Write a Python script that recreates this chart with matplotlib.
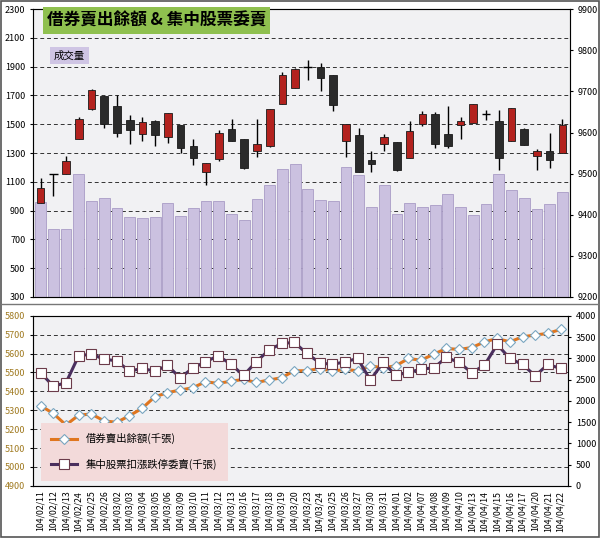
import matplotlib
matplotlib.use("Agg")
import matplotlib.pyplot as plt
from matplotlib.patches import Rectangle
import numpy as np

plt.rcParams['font.family'] = ['Noto Sans CJK TC', 'DejaVu Sans']

dates = ["104/02/11","104/02/12","104/02/13","104/02/24","104/02/25","104/02/26","104/03/02","104/03/03",
         "104/03/04","104/03/05","104/03/06","104/03/09","104/03/10","104/03/11","104/03/12","104/03/13",
         "104/03/16","104/03/17","104/03/18","104/03/19","104/03/20","104/03/23","104/03/24","104/03/25",
         "104/03/26","104/03/27","104/03/30","104/03/31","104/04/01","104/04/02","104/04/07","104/04/08",
         "104/04/09","104/04/10","104/04/13","104/04/14","104/04/15","104/04/16","104/04/17","104/04/20",
         "104/04/21","104/04/22"]
volume = [957,769,769,1155,969,990,921,859,851,859,955,866,921,969,969,879,838,983,1079,1190,1224,
          1052,976,968,1203,1148,928,1079,879,955,928,941,1017,928,872,948,1155,1045,990,914,948,1031]
opens  = [9428,9499,9500,9583,9657,9689,9664,9630,9597,9629,9590,9618,9566,9503,9535,9608,9583,9555,9566,9669,9708,
          9760,9760,9740,9580,9594,9533,9572,9576,9537,9621,9645,9596,9618,9622,9645,9629,9580,9608,9542,9554,9551]
closes = [9466,9499,9531,9632,9703,9621,9600,9606,9625,9594,9648,9563,9537,9525,9598,9579,9513,9573,9657,9740,9754,
          9760,9732,9667,9621,9503,9523,9589,9508,9603,9644,9572,9566,9627,9669,9645,9539,9659,9569,9554,9533,9618]
highs  = [9490,9500,9543,9638,9705,9689,9691,9642,9637,9630,9648,9618,9583,9525,9606,9634,9583,9632,9657,9746,9756,
          9776,9768,9740,9621,9610,9556,9596,9576,9629,9652,9650,9664,9638,9669,9654,9655,9659,9612,9561,9598,9632]
lows   = [9428,9446,9500,9583,9655,9610,9588,9572,9580,9566,9574,9551,9520,9472,9531,9579,9511,9540,9564,9669,9708,
          9727,9702,9653,9541,9503,9503,9556,9506,9537,9617,9562,9562,9583,9622,9630,9509,9580,9569,9508,9513,9551]
short_bal = [5324,5283,5222,5274,5280,5244,5236,5271,5310,5371,5393,5407,5419,5451,5442,5454,5463,5447,5460,5472,5509,
             5509,5521,5507,5516,5509,5535,5525,5535,5574,5565,5597,5627,5622,5632,5662,5680,5662,5689,5698,5707,5728]
limit_orders = [2659,2345,2424,3059,3098,2980,2941,2698,2761,2698,2831,2541,2769,2918,3059,2863,2596,2918,3192,3349,3373,
                3114,2894,2855,2918,2996,2486,2902,2604,2667,2745,2776,3020,2902,2659,2839,3325,2996,2855,2588,2855,2761]

x = np.arange(len(dates))
fig = plt.figure(figsize=(6, 5.38), dpi=100)
bg = '#f1f1f3'

# ---- top
ax = fig.add_axes([0.055, 0.448, 0.895, 0.535])
ax.set_facecolor(bg)
ax.bar(x, np.array(volume) - 300, bottom=300, width=0.85, color='#cbc1e0', edgecolor='#a99cc6', linewidth=0.6, zorder=2)
ax.set_ylim(300, 2300)
ax.set_yticks(range(300, 2301, 200))
ax.set_xlim(-0.6, len(x) - 0.4)
ax.set_xticks(x)
ax.set_xticklabels([])
ax.tick_params(axis='x', length=0)
ax.tick_params(axis='y', labelsize=6.5, length=2)
ax.grid(axis='y', color='#333333', linestyle=(0, (4, 3)), linewidth=0.7, zorder=1)
ax.set_axisbelow(True)
ax2 = ax.twinx()
ax2.set_ylim(9200, 9900)
ax2.set_yticks(range(9200, 9901, 100))
ax2.tick_params(axis='y', labelsize=6.5, length=2)
for i in x:
    o, c, h, l = opens[i], closes[i], highs[i], lows[i]
    ax2.vlines(i, l, h, color='black', linewidth=1.0, zorder=3)
    if o == c:
        ax2.hlines(o, i - 0.35, i + 0.35, color='black', linewidth=1.0, zorder=4)
    else:
        col = '#b3221e' if c > o else '#2b2b2b'
        ax2.add_patch(Rectangle((i - 0.3, min(o, c)), 0.6, abs(c - o), facecolor=col,
                                edgecolor='#1a1a1a', linewidth=0.6, zorder=4))
for s in ax.spines.values():
    s.set_color('#888888')
fig.text(0.078, 0.962, '借券賣出餘額 & 集中股票委賣', fontsize=12, fontweight='bold', va='center',
         bbox=dict(boxstyle='square,pad=0.25', facecolor='#8fc04f', edgecolor='none'))
fig.text(0.09, 0.897, '成交量', fontsize=7.5, va='center',
         bbox=dict(boxstyle='square,pad=0.35', facecolor='#cfc5e4', edgecolor='none'))

# ---- bottom
bx = fig.add_axes([0.055, 0.097, 0.892, 0.316])
bx.set_facecolor(bg)
bx.set_ylim(4900, 5800)
bx.set_yticks(range(4900, 5801, 100))
bx.grid(axis='y', color='#333333', linestyle=(0, (4, 3)), linewidth=0.7)
bx.set_axisbelow(True)
bx.tick_params(axis='y', labelsize=6.5, labelcolor='#a07a20', length=2)
bx.set_xlim(-0.6, len(x) - 0.4)
bx.set_xticks(x)
bx.set_xticklabels(dates, rotation=90, fontsize=6.3)
bx.tick_params(axis='x', length=0)
l1, = bx.plot(x, short_bal, color='#e0761f', linewidth=2.2, marker='D', markersize=5,
              markerfacecolor='white', markeredgecolor='#7aa6c0', markeredgewidth=0.8, label='借券賣出餘額(千張)', zorder=3)
bx2 = bx.twinx()
bx2.set_ylim(0, 4000)
bx2.set_yticks(range(0, 4001, 500))
bx2.tick_params(axis='y', labelsize=6.5, length=2)
l2, = bx2.plot(x, limit_orders, color='#4a2f5e', linewidth=2.2, marker='s', markersize=7,
               markerfacecolor='white', markeredgecolor='#6b3b4a', markeredgewidth=0.8, label='集中股票扣漲跌停委賣(千張)', zorder=3)
leg = bx2.legend(handles=[l1, l2], loc='lower left', bbox_to_anchor=(0.005, 0.0), fontsize=7.5,
                 frameon=True, fancybox=False, labelspacing=1.4, borderpad=1.0, handlelength=2.5)
leg.get_frame().set_facecolor('#f3dada')
leg.get_frame().set_edgecolor('none')
leg.get_frame().set_alpha(1)
for s in bx.spines.values():
    s.set_color('#888888')

# panel borders
fig.add_artist(Rectangle((0.002, 0.002), 0.996, 0.996, transform=fig.transFigure, fill=False, edgecolor='#555555', linewidth=1.2))
fig.add_artist(plt.Line2D([0.002, 0.998], [0.435, 0.435], transform=fig.transFigure, color='#777777', linewidth=1.0))

fig.savefig('out.png', dpi=100)
